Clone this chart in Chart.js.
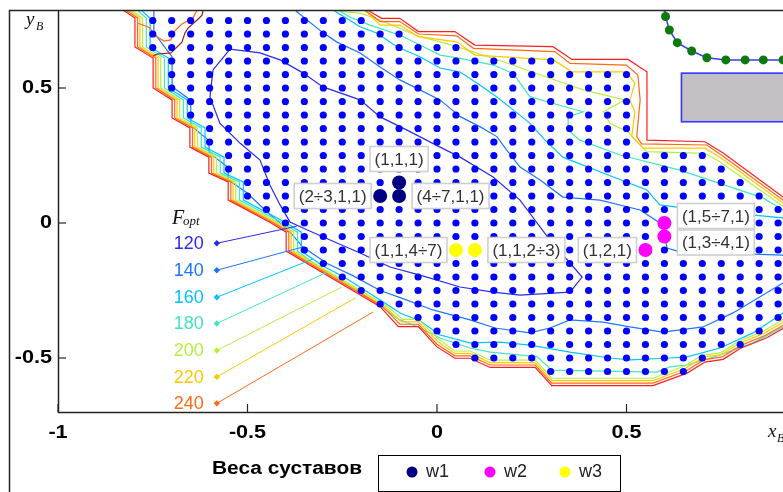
<!DOCTYPE html>
<html>
<head>
<meta charset="utf-8">
<title>F_opt и веса суставов</title>
<script src="https://cdn.jsdelivr.net/npm/chart.js@4.4.1/dist/chart.umd.min.js"></script>
<style>
  html, body { margin: 0; padding: 0; background: #ffffff; overflow: hidden; }
  #box { width: 830px; height: 492px; }
</style>
</head>
<body>
<div id="box"><canvas id="chart" width="830" height="492"></canvas></div>
<script>
// ---- axis ticks ----
const xTicks = [-1, -0.5, 0, 0.5, 1];
const xTickLabels = ['-1', '-0.5', '0', '0.5', '1'];
const yTicks = [-0.5, 0, 0.5];
const yTickLabels = ['-0.5', '0', '0.5'];

// ---- reachable lattice of end-point positions (step 0.05), row by row ----
const rowY     = [0.75, 0.70, 0.65, 0.60, 0.55, 0.50, 0.45, 0.40, 0.35, 0.30, 0.25, 0.20, 0.15, 0.10, 0.05, 0.00, -0.05, -0.10, -0.15, -0.20, -0.25, -0.30, -0.35, -0.40, -0.45, -0.50, -0.55];
const rowStart = [-0.75, -0.75, -0.75, -0.70, -0.70, -0.70, -0.65, -0.65, -0.60, -0.60, -0.55, -0.55, -0.50, -0.50, -0.45, -0.40, -0.35, -0.35, -0.30, -0.25, -0.20, -0.15, -0.05, 0.00, 0.05, 0.10, 0.30];
const rowEnd   = [-0.20, -0.10, 0.05, 0.30, 0.50, 0.50, 0.50, 0.50, 0.50, 0.50, 0.70, 0.75, 0.80, 0.85, 0.90, 1.00, 1.00, 1.00, 1.00, 1.00, 1.00, 0.95, 0.90, 0.85, 0.80, 0.70, 0.65];

// ---- F_opt iso-lines ----
const level120 = [[-0.591,0.567],[-0.546,0.644],[-0.467,0.630],[-0.414,0.604],[-0.354,0.556],[-0.301,0.504],[-0.203,0.456],[-0.150,0.393],[-0.079,0.344],[0.008,0.281],[0.061,0.244],[0.148,0.170],[0.219,0.085],[0.298,-0.063],[0.383,-0.200],[0.351,-0.256],[0.219,-0.267],[0.148,-0.256],[0.061,-0.237],[-0.045,-0.193],[-0.124,-0.163],[-0.203,-0.111],[-0.282,-0.063],[-0.348,-0.022],[-0.388,0.004],[-0.414,0.067],[-0.441,0.141],[-0.467,0.233],[-0.520,0.296],[-0.573,0.370],[-0.599,0.467],[-0.591,0.567]];
const level140 = [[-0.747,0.80],[-0.747,0.705],[-0.699,0.615],[-0.699,0.505],[-0.650,0.455],[-0.649,0.360],[-0.602,0.305],[-0.601,0.260],[-0.551,0.205],[-0.551,0.160],[-0.500,0.110],[-0.454,0.048],[-0.388,-0.033],[-0.354,-0.089],[-0.290,-0.150],[-0.222,-0.195],[-0.150,-0.250],[-0.090,-0.280],[-0.011,-0.322],[0.087,-0.359],[0.153,-0.389],[0.245,-0.407],[0.298,-0.389],[0.351,-0.359],[0.438,-0.367],[0.509,-0.385],[0.596,-0.404],[0.702,-0.385],[0.781,-0.333],[0.913,-0.222],[0.96,-0.19],[0.96,-0.14],[0.913,-0.119],[0.641,-0.107],[0.607,-0.093],[0.596,-0.007],[0.536,0.048],[0.430,0.085],[0.332,0.096],[0.272,0.159],[0.219,0.207],[0.184,0.270],[0.158,0.320],[0.113,0.357],[0.061,0.394],[0.008,0.456],[-0.045,0.493],[-0.098,0.530],[-0.150,0.578],[-0.203,0.630],[-0.264,0.670],[-0.303,0.707],[-0.343,0.752],[-0.375,0.789],[-0.39,0.81]];
const level160 = [[-0.79,0.80],[-0.757,0.759],[-0.757,0.652],[-0.709,0.611],[-0.709,0.500],[-0.659,0.456],[-0.659,0.389],[-0.612,0.352],[-0.612,0.281],[-0.562,0.244],[-0.562,0.185],[-0.511,0.152],[-0.511,0.085],[-0.401,0.003],[-0.358,-0.034],[-0.358,-0.104],[-0.300,-0.160],[-0.245,-0.200],[-0.195,-0.245],[-0.145,-0.290],[-0.095,-0.335],[-0.045,-0.362],[0.008,-0.415],[0.087,-0.444],[0.166,-0.441],[0.245,-0.452],[0.351,-0.478],[0.456,-0.500],[0.509,-0.507],[0.615,-0.500],[0.660,-0.496],[0.747,-0.463],[0.834,-0.407],[0.913,-0.333],[0.96,-0.29],[0.96,0.0],[0.913,0.019],[0.694,0.048],[0.588,0.067],[0.554,0.122],[0.438,0.185],[0.332,0.244],[0.285,0.307],[0.245,0.370],[0.201,0.419],[0.158,0.467],[0.113,0.511],[0.061,0.559],[0.008,0.574],[-0.045,0.616],[-0.106,0.653],[-0.158,0.703],[-0.203,0.727],[-0.274,0.789],[-0.28,0.80]];
const level180 = [[-0.80,0.80],[-0.767,0.759],[-0.767,0.652],[-0.719,0.611],[-0.719,0.500],[-0.669,0.456],[-0.669,0.389],[-0.622,0.352],[-0.622,0.281],[-0.572,0.244],[-0.572,0.185],[-0.521,0.152],[-0.521,0.085],[-0.411,0.003],[-0.368,-0.034],[-0.368,-0.104],[-0.308,-0.168],[-0.255,-0.210],[-0.205,-0.255],[-0.155,-0.302],[-0.103,-0.355],[-0.050,-0.385],[0.008,-0.426],[0.087,-0.463],[0.140,-0.478],[0.264,-0.495],[0.303,-0.545],[0.580,-0.552],[0.615,-0.533],[0.660,-0.526],[0.747,-0.489],[0.834,-0.444],[0.913,-0.385],[0.97,-0.33],[0.97,0.03],[0.913,0.048],[0.860,0.093],[0.641,0.196],[0.483,0.252],[0.377,0.307],[0.346,0.344],[0.346,0.394],[0.386,0.412],[0.351,0.425],[0.245,0.468],[0.201,0.554],[0.149,0.585],[0.061,0.610],[0.008,0.622],[-0.045,0.659],[-0.098,0.696],[-0.177,0.733],[-0.230,0.763],[-0.261,0.789],[-0.27,0.80]];
const level200 = [[-0.819,0.80],[-0.777,0.759],[-0.777,0.652],[-0.729,0.611],[-0.729,0.500],[-0.679,0.456],[-0.679,0.389],[-0.632,0.352],[-0.632,0.281],[-0.582,0.244],[-0.582,0.185],[-0.531,0.152],[-0.531,0.085],[-0.421,0.003],[-0.378,-0.034],[-0.378,-0.104],[-0.130,-0.310],[-0.090,-0.357],[-0.049,-0.357],[0.005,-0.431],[0.047,-0.474],[0.087,-0.474],[0.140,-0.508],[0.259,-0.508],[0.303,-0.575],[0.570,-0.575],[0.654,-0.529],[0.700,-0.490],[0.750,-0.480],[0.794,-0.440],[0.862,-0.400],[0.910,-0.360],[0.975,-0.310],[0.975,0.020],[0.913,0.062],[0.745,0.228],[0.707,0.258],[0.553,0.264],[0.505,0.336],[0.456,0.369],[0.439,0.412],[0.496,0.456],[0.386,0.493],[0.298,0.536],[0.200,0.585],[0.105,0.629],[0.052,0.653],[0.008,0.671],[-0.045,0.690],[-0.098,0.721],[-0.150,0.752],[-0.203,0.777],[-0.248,0.783],[-0.27,0.80]];
const level220 = [[-0.826,0.80],[-0.784,0.759],[-0.784,0.652],[-0.736,0.611],[-0.736,0.500],[-0.686,0.456],[-0.686,0.389],[-0.639,0.352],[-0.639,0.281],[-0.589,0.244],[-0.589,0.185],[-0.538,0.152],[-0.538,0.085],[-0.428,0.003],[-0.385,-0.034],[-0.385,-0.104],[-0.137,-0.310],[-0.094,-0.366],[-0.049,-0.366],[0.003,-0.440],[0.047,-0.483],[0.087,-0.483],[0.140,-0.517],[0.259,-0.517],[0.303,-0.584],[0.570,-0.584],[0.656,-0.538],[0.703,-0.497],[0.751,-0.487],[0.796,-0.447],[0.865,-0.407],[0.915,-0.367],[0.98,-0.315],[0.98,0.03],[0.913,0.074],[0.749,0.241],[0.707,0.277],[0.544,0.277],[0.514,0.320],[0.522,0.412],[0.509,0.456],[0.522,0.517],[0.500,0.560],[0.356,0.560],[0.307,0.604],[0.100,0.622],[0.052,0.671],[-0.050,0.690],[-0.098,0.733],[-0.150,0.733],[-0.177,0.770],[-0.20,0.80]];
const level240 = [[-0.833,0.80],[-0.790,0.759],[-0.790,0.652],[-0.742,0.611],[-0.742,0.500],[-0.692,0.456],[-0.692,0.389],[-0.645,0.352],[-0.645,0.281],[-0.595,0.244],[-0.595,0.185],[-0.544,0.152],[-0.544,0.085],[-0.434,0.003],[-0.391,-0.034],[-0.391,-0.104],[-0.143,-0.310],[-0.098,-0.375],[-0.049,-0.375],[0.000,-0.449],[0.047,-0.492],[0.087,-0.492],[0.140,-0.526],[0.259,-0.526],[0.303,-0.593],[0.570,-0.593],[0.658,-0.547],[0.705,-0.506],[0.753,-0.496],[0.798,-0.456],[0.867,-0.416],[0.917,-0.376],[0.985,-0.322],[0.985,0.035],[0.913,0.085],[0.752,0.250],[0.712,0.289],[0.540,0.293],[0.527,0.320],[0.536,0.456],[0.530,0.548],[0.500,0.585],[0.351,0.591],[0.311,0.635],[0.096,0.647],[0.052,0.693],[-0.049,0.700],[-0.098,0.746],[-0.150,0.746],[-0.182,0.780],[-0.20,0.80]];
const level240b = [[-0.788,0.740],[-0.757,0.722],[-0.747,0.696],[-0.720,0.674],[-0.702,0.678],[-0.697,0.704],[-0.673,0.737],[-0.644,0.759],[-0.633,0.789],[-0.63,0.80]];
const level260 = [[-0.84,0.80],[-0.797,0.759],[-0.797,0.652],[-0.749,0.611],[-0.749,0.500],[-0.699,0.456],[-0.699,0.389],[-0.652,0.352],[-0.652,0.281],[-0.602,0.244],[-0.602,0.185],[-0.551,0.152],[-0.551,0.085],[-0.441,0.003],[-0.398,-0.034],[-0.398,-0.104],[-0.150,-0.310],[-0.102,-0.384],[-0.049,-0.384],[-0.001,-0.458],[0.047,-0.501],[0.087,-0.501],[0.140,-0.535],[0.259,-0.535],[0.303,-0.602],[0.570,-0.602],[0.660,-0.556],[0.707,-0.515],[0.755,-0.505],[0.800,-0.465],[0.870,-0.425],[0.920,-0.385],[0.99,-0.33],[0.99,0.04],[0.913,0.096],[0.755,0.259],[0.707,0.301],[0.554,0.307],[0.554,0.560],[0.504,0.606],[0.356,0.606],[0.306,0.653],[0.100,0.659],[0.047,0.709],[-0.049,0.709],[-0.098,0.758],[-0.146,0.758],[-0.177,0.783],[-0.19,0.80]];
const level280 = [[-0.749,0.620],[-0.736,0.626],[-0.702,0.630],[-0.673,0.670],[-0.665,0.704],[-0.657,0.722],[-0.633,0.752],[-0.620,0.770],[-0.617,0.789],[-0.617,0.80]];

// ---- F_opt legend: level values, label heights, leader end points ----
const fLevels   = [120, 140, 160, 180, 200, 220, 240];
const fLabelY   = [-0.075, -0.175, -0.275, -0.372, -0.472, -0.570, -0.668];
const fLeaderX0 = -0.581;
const fLeaderX1 = [-0.370, -0.354, -0.327, -0.288, -0.251, -0.216, -0.169];
const fLeaderY1 = [-0.012, -0.089, -0.133, -0.181, -0.237, -0.278, -0.330];

// ---- end-effector trajectory and obstacle ----
const armPath = [[0.600,0.800],[0.603,0.765],[0.613,0.715],[0.634,0.668],[0.672,0.637],[0.712,0.612],[0.762,0.604],[0.813,0.604],[0.861,0.604],[0.913,0.604],[0.965,0.604]];
const obstacleX = [0.645, 1.05];
const obstacleY = [0.375, 0.555];

// ---- optimal joint weights ----
const w1Points = [[-0.10, 0.15], [-0.15, 0.10], [-0.10, 0.10]];
const w2Points = [[0.55, -0.10], [0.60, -0.05], [0.60, 0.00]];
const w3Points = [[0.05, -0.10], [0.10, -0.10]];
const noteText  = ['(1,1,1)', '(2÷3,1,1)', '(4÷7,1,1)', '(1,1,4÷7)', '(1,1,2÷3)', '(1,2,1)', '(1,5÷7,1)', '(1,3÷4,1)'];
const notePoint = [w1Points[0], w1Points[1], w1Points[2], w3Points[0], w3Points[1], w2Points[0], w2Points[2], w2Points[1]];
const noteSide  = ['above', 'left', 'right', 'left', 'right', 'left', 'right', 'right'];
const noteNudge = [0, 0, 0, 0, 0, 0, -7, 6];

// ---- colours ----
const levelColor = { 120: '#2a2af2', 140: '#1c76ff', 160: '#00c4ff', 180: '#40e6c0', 200: '#b6ef3e', 220: '#ffc800', 240: '#ff6a14', 260: '#ff1e1e', 280: '#9e1c1c' };

const pts = a => a.map(p => ({ x: p[0], y: p[1] }));

const gridDots = [];
rowY.forEach((y, i) => {
  for (let k = 0; k < 60; k++) {
    const x = Math.round((rowStart[i] + 0.05 * k) * 100) / 100;
    if (x > rowEnd[i] + 1e-9) break;
    gridDots.push({ x, y });
  }
});

function iso(data, lvl) {
  return { data: pts(data), showLine: true, borderColor: levelColor[lvl], borderWidth: 1.2,
           pointRadius: 0, fill: false, tension: 0, order: 5 };
}

const datasets = [
  { data: pts(w1Points), pointRadius: 7, pointBackgroundColor: '#000080', pointBorderWidth: 0, showLine: false, order: 0 },
  { data: pts(w2Points), pointRadius: 7, pointBackgroundColor: '#ff00ff', pointBorderWidth: 0, showLine: false, order: 0 },
  { data: pts(w3Points), pointRadius: 7, pointBackgroundColor: '#ffff00', pointBorderWidth: 0, showLine: false, order: 0 },
  { data: gridDots, pointRadius: 3.6, pointBackgroundColor: '#0000ff', pointBorderWidth: 0, showLine: false, order: 1 },
  { data: pts(armPath), showLine: true, borderColor: '#3a3aff', borderWidth: 1.5, pointRadius: 4.5,
    pointBackgroundColor: '#0d7a0d', pointBorderWidth: 0, order: 2 },
  iso(level280, 280), iso(level260, 260), iso(level240, 240), iso(level240b, 240), iso(level220, 220),
  iso(level200, 200), iso(level180, 180), iso(level160, 160), iso(level140, 140), iso(level120, 120)
];
fLevels.forEach((lvl, i) => {
  datasets.push({ data: [{ x: fLeaderX0, y: fLabelY[i] }, { x: fLeaderX1[i], y: fLeaderY1[i] }],
    showLine: true, borderColor: levelColor[lvl], borderWidth: 1, tension: 0,
    pointRadius: [3.2, 0], pointStyle: 'rectRot', pointBackgroundColor: levelColor[lvl], pointBorderWidth: 0, order: 4 });
});

function drawText(ctx, str, x, y, font, color, align, sx) {
  sx = sx || 1;
  ctx.save();
  ctx.font = font; ctx.fillStyle = color; ctx.textBaseline = 'middle'; ctx.textAlign = 'left';
  const w = ctx.measureText(str).width * sx;
  const x0 = align === 'right' ? x - w : (align === 'center' ? x - w / 2 : x);
  ctx.translate(x0, y); ctx.scale(sx, 1);
  ctx.fillText(str, 0, 0);
  ctx.restore();
  return w;
}

const decor = {
  id: 'decor',
  beforeDatasetsDraw(chart) {
    const { ctx, scales: { x, y }, chartArea: ca } = chart;
    ctx.save();
    ctx.beginPath(); ctx.rect(ca.left, ca.top, ca.right - ca.left, ca.bottom - ca.top); ctx.clip();
    const x0 = x.getPixelForValue(obstacleX[0]), x1 = x.getPixelForValue(obstacleX[1]);
    const y0 = y.getPixelForValue(obstacleY[1]), y1 = y.getPixelForValue(obstacleY[0]);
    ctx.fillStyle = '#c3c1c6'; ctx.fillRect(x0, y0, x1 - x0, y1 - y0);
    ctx.strokeStyle = '#3535ff'; ctx.lineWidth = 1.6; ctx.strokeRect(x0, y0, x1 - x0, y1 - y0);
    ctx.restore();
  },
  afterDatasetsDraw(chart) {
    const { ctx, scales: { x, y }, chartArea: ca } = chart;
    // point notes
    noteText.forEach((t, i) => {
      const p = notePoint[i];
      const cx = x.getPixelForValue(p[0]), cy = y.getPixelForValue(p[1]) + noteNudge[i];
      ctx.save();
      ctx.font = '17px "Liberation Sans", Arial, sans-serif';
      const w = ctx.measureText(t).width + 9, h = 25;
      let bx, by;
      if (noteSide[i] === 'above') { bx = cx - w / 2; by = cy - 11 - h; }
      else if (noteSide[i] === 'left') { bx = cx - 9 - w; by = cy - h / 2; }
      else { bx = cx + 13; by = cy - h / 2; }
      ctx.fillStyle = '#ffffff'; ctx.fillRect(bx, by, w, h);
      ctx.strokeStyle = '#cfcfcf'; ctx.lineWidth = 1.6; ctx.strokeRect(bx, by, w, h);
      ctx.restore();
      drawText(ctx, t, bx + w / 2, by + h / 2 + 1, '17px "Liberation Sans", Arial, sans-serif', '#333333', 'center');
    });
    // F_opt scale labels
    const lx = x.getPixelForValue(fLeaderX0) - 13;
    fLevels.forEach((lvl, i) => {
      drawText(ctx, String(lvl), lx, y.getPixelForValue(fLabelY[i]) + 1, '18px "Liberation Sans", Arial, sans-serif', levelColor[lvl], 'right');
    });
    const fy = y.getPixelForValue(fLabelY[0]) - 24;
    ctx.save();
    ctx.fillStyle = '#111'; ctx.textBaseline = 'alphabetic';
    ctx.font = 'italic 20px "Liberation Serif", "Times New Roman", serif';
    ctx.fillText('F', 172, fy + 5);
    ctx.font = 'italic 13px "Liberation Serif", "Times New Roman", serif';
    ctx.fillText('opt', 183, fy + 6);
    ctx.restore();
  },
  afterDraw(chart) {
    const { ctx, scales: { x, y }, chartArea: ca } = chart;
    ctx.save();
    ctx.strokeStyle = '#262626'; ctx.lineWidth = 1.5;
    // outer frame
    ctx.beginPath(); ctx.moveTo(9.5, chart.height + 2); ctx.lineTo(9.5, 10.5); ctx.lineTo(chart.width + 2, 10.5); ctx.stroke();
    // axes box
    ctx.beginPath();
    ctx.moveTo(ca.left + 0.5, ca.top); ctx.lineTo(ca.left + 0.5, ca.bottom + 0.5); ctx.lineTo(ca.right, ca.bottom + 0.5);
    ctx.stroke();
    // inward ticks
    ctx.lineWidth = 1.2;
    xTicks.forEach(v => { const p = x.getPixelForValue(v); ctx.beginPath(); ctx.moveTo(p, ca.bottom); ctx.lineTo(p, ca.bottom - 8); ctx.stroke(); });
    yTicks.forEach(v => { const p = y.getPixelForValue(v); ctx.beginPath(); ctx.moveTo(ca.left, p); ctx.lineTo(ca.left + 8, p); ctx.stroke(); });
    ctx.restore();
    const tickFont = 'bold 18px "Liberation Sans", Arial, sans-serif';
    xTicks.forEach((v, i) => drawText(ctx, xTickLabels[i], x.getPixelForValue(v), ca.bottom + 21, tickFont, '#000', 'center', 1.2));
    yTicks.forEach((v, i) => drawText(ctx, yTickLabels[i], ca.left - 6, y.getPixelForValue(v), tickFont, '#000', 'right', 1.2));
    // axis names
    ctx.save();
    ctx.fillStyle = '#111'; ctx.textBaseline = 'alphabetic';
    ctx.font = 'italic 19px "Liberation Serif", "Times New Roman", serif';
    ctx.fillText('y', 26, 25);
    ctx.fillText('x', 768, 437);
    ctx.font = 'italic 12px "Liberation Serif", "Times New Roman", serif';
    ctx.fillText('B', 36, 30);
    ctx.fillText('B', 777, 442);
    ctx.restore();
    // joint weight legend
    drawText(ctx, 'Веса суставов', 362, 469, 'bold 18px "Liberation Sans", Arial, sans-serif', '#000', 'right', 1.16);
    ctx.save();
    ctx.strokeStyle = '#000'; ctx.lineWidth = 1;
    ctx.strokeRect(378.5, 455.5, 242, 36);
    const items = [['#000080', 'w1', 412], ['#ff00ff', 'w2', 490], ['#ffff00', 'w3', 565]];
    items.forEach(it => {
      ctx.fillStyle = it[0]; ctx.beginPath(); ctx.arc(it[2], 472, 5.5, 0, Math.PI * 2); ctx.fill();
      drawText(ctx, it[1], it[2] + 14, 472, '18px "Liberation Sans", Arial, sans-serif', '#222', 'left');
    });
    ctx.restore();
  }
};

new Chart(document.getElementById('chart'), {
  type: 'scatter',
  data: { datasets },
  options: {
    responsive: false,
    animation: false,
    events: [],
    layout: { padding: { left: 58, top: 10, right: 14, bottom: 80 } },
    plugins: { legend: { display: false }, tooltip: { enabled: false } },
    scales: {
      x: { type: 'linear', min: -1, max: 1, display: false },
      y: { type: 'linear', min: -0.7, max: 0.7889, display: false }
    }
  },
  plugins: [decor]
});
</script>
</body>
</html>
